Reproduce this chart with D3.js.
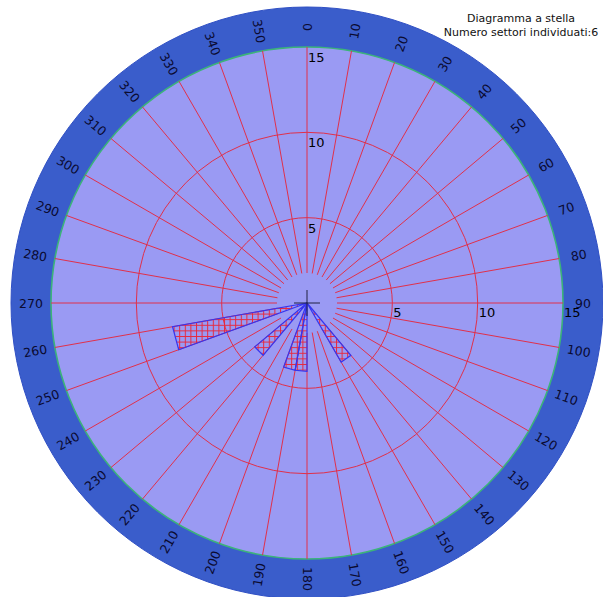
<!DOCTYPE html>
<html>
<head>
<meta charset="utf-8">
<script src="https://cdn.jsdelivr.net/npm/d3@7"></script>
<style>
  html, body { margin: 0; padding: 0; background: #ffffff; }
  svg { display: block; }
</style>
</head>
<body>
<svg id="chart" width="603" height="597"></svg>
<script>
// ---- data ----
const directionLabels = [0,10,20,30,40,50,60,70,80,90,100,110,120,130,140,150,160,170,
                         180,190,200,210,220,230,240,250,260,270,280,290,300,310,320,330,340,350];
const radialTicks = [5, 10, 15];
const sectorStart = [140, 180, 190, 220, 250];   // degrees, clockwise from north
const sectorWidth = [10, 10, 10, 10, 10];
const sectorValue = [4, 4, 4, 4, 8];
const titleLines = ["Diagramma a stella", "Numero settori individuati:6"];

// ---- layout ----
const cx = 307, cy = 303;
const rMax = 256, rOuter = 296, rInnerGap = 30;
const svg = d3.select("#chart");

const r = d3.scaleLinear().domain([0, 15]).range([0, rMax]);
const px = (a, rr) => cx + rr * Math.sin(a * Math.PI / 180);
const py = (a, rr) => cy - rr * Math.cos(a * Math.PI / 180);

// hatch pattern
const defs = svg.append("defs");
const pat = defs.append("pattern").attr("id", "hatch")
  .attr("patternUnits", "userSpaceOnUse").attr("width", 5.6).attr("height", 5.6);
pat.append("path").attr("d", "M0,0.5H5.6M0.5,0V5.6")
  .attr("stroke", "#e8283c").attr("stroke-width", 1).attr("fill", "none");

// outer ring
svg.append("circle").attr("cx", cx).attr("cy", cy).attr("r", rOuter)
  .attr("fill", "#3a5dcb").attr("stroke", "#3050c4").attr("stroke-width", 1);
// plot area
svg.append("circle").attr("cx", cx).attr("cy", cy).attr("r", rMax)
  .attr("fill", "#9a9af3").attr("stroke", "#3cb37a").attr("stroke-width", 1.6);

// circles
svg.selectAll("circle.grid").data(radialTicks.filter(v => v < 15)).enter()
  .append("circle").attr("class", "grid")
  .attr("cx", cx).attr("cy", cy).attr("r", d => r(d))
  .attr("fill", "none").attr("stroke", "#e0304a").attr("stroke-width", 1);

// radial lines
svg.selectAll("line.spoke").data(directionLabels).enter()
  .append("line").attr("class", "spoke")
  .attr("x1", d => px(d, rInnerGap)).attr("y1", d => py(d, rInnerGap))
  .attr("x2", d => px(d, rMax)).attr("y2", d => py(d, rMax))
  .attr("stroke", "#e0304a").attr("stroke-width", 1);

// sectors
const sectors = sectorStart.map((s, i) => ({ a0: s, a1: s + sectorWidth[i], v: sectorValue[i] }));
svg.selectAll("path.sector").data(sectors).enter()
  .append("path").attr("class", "sector")
  .attr("d", d => {
    const rr = r(d.v);
    return `M${cx},${cy}L${px(d.a0, rr)},${py(d.a0, rr)}L${px(d.a1, rr)},${py(d.a1, rr)}Z`;
  })
  .attr("fill", "url(#hatch)")
  .attr("stroke", "#3535f0").attr("stroke-width", 1.2).attr("stroke-linejoin", "miter");

// crosshair
svg.append("line").attr("x1", cx - 13).attr("x2", cx + 13).attr("y1", cy).attr("y2", cy)
  .attr("stroke", "#202040").attr("stroke-width", 1);
svg.append("line").attr("x1", cx).attr("x2", cx).attr("y1", cy - 13).attr("y2", cy + 13)
  .attr("stroke", "#202040").attr("stroke-width", 1);

// radial tick labels (vertical)
svg.selectAll("text.rtv").data(radialTicks).enter()
  .append("text").attr("class", "rtv")
  .attr("x", cx + 1).attr("y", d => cy - r(d) + 15)
  .attr("font-family", "DejaVu Sans, sans-serif").attr("font-size", 13)
  .attr("fill", "#000").text(d => d);
// radial tick labels (horizontal)
svg.selectAll("text.rth").data(radialTicks).enter()
  .append("text").attr("class", "rth")
  .attr("x", d => cx + r(d) + 1).attr("y", cy + 14)
  .attr("font-family", "DejaVu Sans, sans-serif").attr("font-size", 13)
  .attr("fill", "#000").text(d => d);

// direction labels in ring
const rLab = 276;
svg.selectAll("text.dir").data(directionLabels).enter()
  .append("text").attr("class", "dir")
  .attr("transform", d => {
    const rot = (d <= 180) ? d - 90 : d - 270;
    return `translate(${px(d, rLab)},${py(d, rLab)}) rotate(${rot})`;
  })
  .attr("text-anchor", "middle").attr("dominant-baseline", "central")
  .attr("font-family", "DejaVu Sans, sans-serif").attr("font-size", 12.5)
  .attr("fill", "#0a0a30").text(d => d);

// title
svg.selectAll("text.title").data(titleLines).enter()
  .append("text").attr("class", "title")
  .attr("x", 521).attr("y", (d, i) => 22 + i * 13.5)
  .attr("text-anchor", "middle")
  .attr("font-family", "DejaVu Sans, sans-serif").attr("font-size", 11)
  .attr("fill", "#111").text(d => d);
</script>
</body>
</html>
